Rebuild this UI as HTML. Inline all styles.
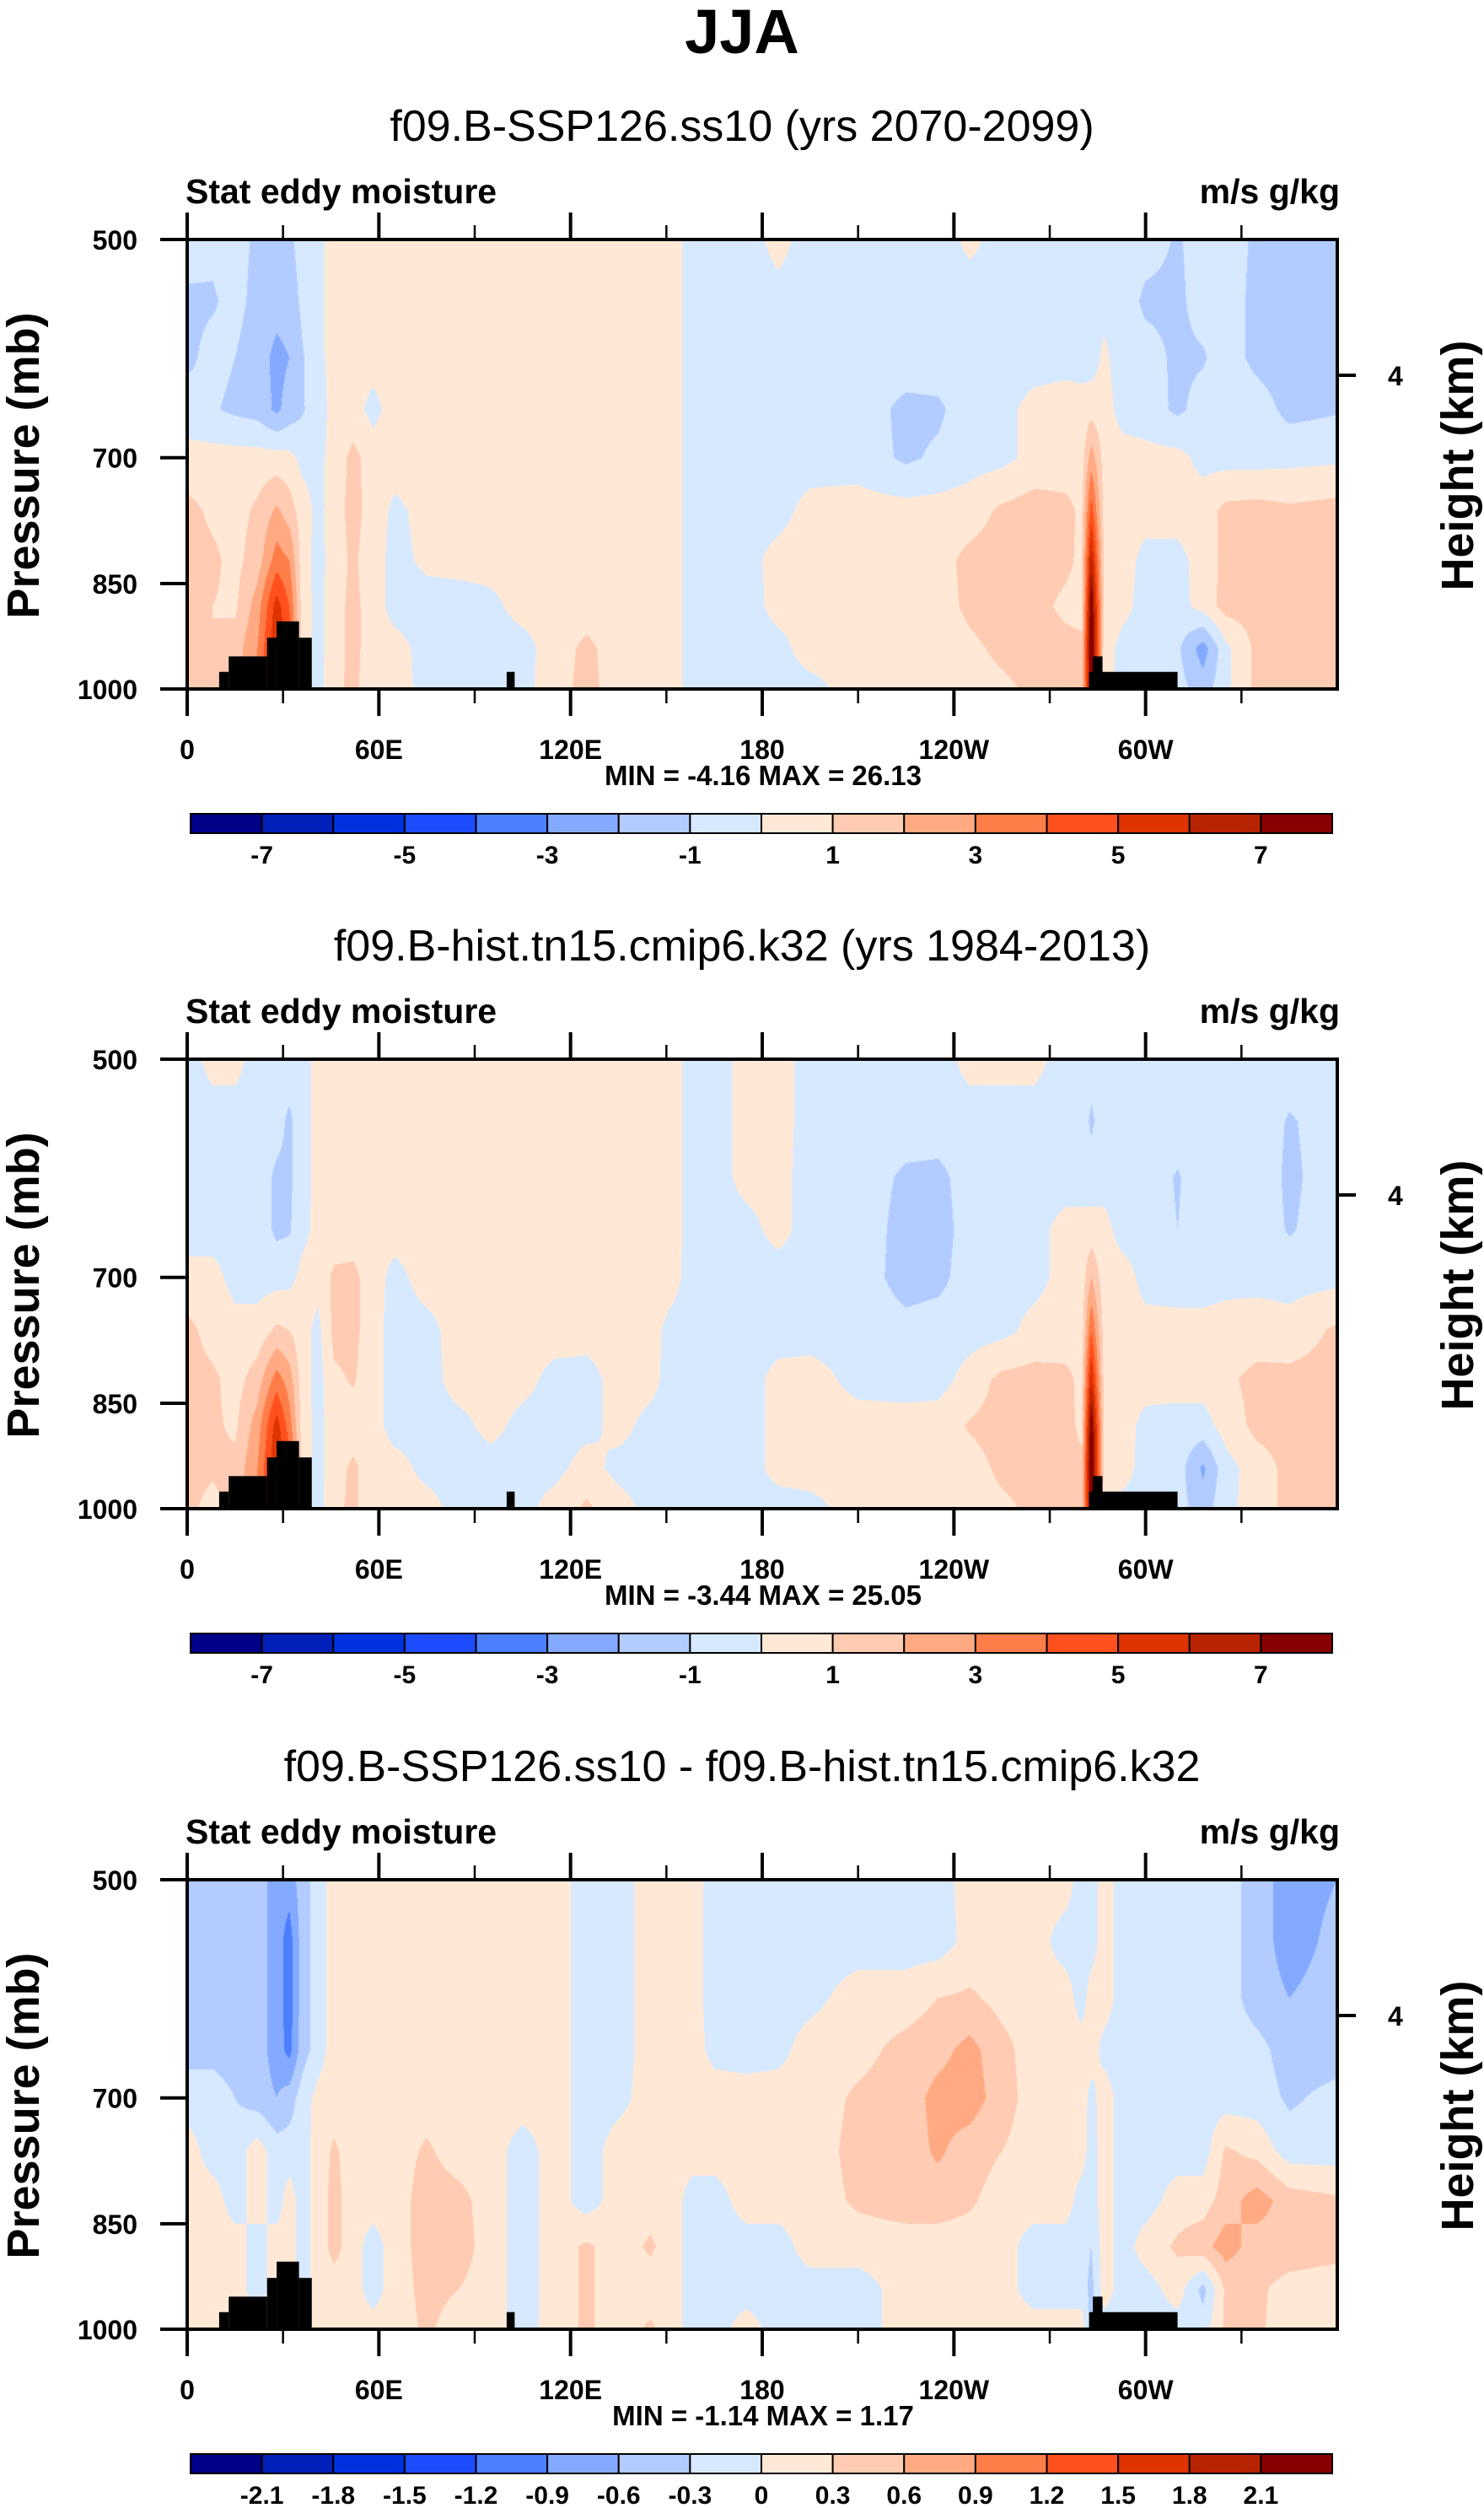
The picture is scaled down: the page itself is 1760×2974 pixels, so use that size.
<!DOCTYPE html>
<html><head><meta charset="utf-8"><style>
html,body{margin:0;padding:0;background:#fff;}
#wrap{position:relative;width:1760px;height:2974px;overflow:hidden;background:#fff;}
canvas{position:absolute;}
svg{position:absolute;left:0;top:0;}
text{font-family:"Liberation Sans",Arial,sans-serif;fill:#000;}
.b{font-weight:bold;}
</style></head><body>
<div id="wrap">
<canvas id="c0" width="1364" height="533" style="left:222px;top:284px"></canvas>
<canvas id="c1" width="1364" height="533" style="left:222px;top:1256px"></canvas>
<canvas id="c2" width="1364" height="533" style="left:222px;top:2229px"></canvas>
<svg id="svg" width="1760" height="2974" xmlns="http://www.w3.org/2000/svg">
<text x="880" y="63" text-anchor="middle" class="b" font-size="74">JJA</text>
<g id="p0" transform="translate(0,0)">
<text x="880" y="167" text-anchor="middle" font-size="52">f09.B-SSP126.ss10 (yrs 2070-2099)</text>
<text x="220" y="241" class="b" font-size="41">Stat eddy moisture</text>
<text x="1589" y="241" text-anchor="end" class="b" font-size="41">m/s g/kg</text>
<text transform="translate(46,552) rotate(-90)" text-anchor="middle" class="b" font-size="54">Pressure (mb)</text>
<text transform="translate(1747,552) rotate(-90)" text-anchor="middle" class="b" font-size="54">Height (km)</text>
<text x="905" y="931" text-anchor="middle" class="b" font-size="33">MIN = -4.16  MAX = 26.13</text>
</g>
<g id="p1" transform="translate(0,972)">
<text x="880" y="167" text-anchor="middle" font-size="52">f09.B-hist.tn15.cmip6.k32 (yrs 1984-2013)</text>
<text x="220" y="241" class="b" font-size="41">Stat eddy moisture</text>
<text x="1589" y="241" text-anchor="end" class="b" font-size="41">m/s g/kg</text>
<text transform="translate(46,552) rotate(-90)" text-anchor="middle" class="b" font-size="54">Pressure (mb)</text>
<text transform="translate(1747,552) rotate(-90)" text-anchor="middle" class="b" font-size="54">Height (km)</text>
<text x="905" y="931" text-anchor="middle" class="b" font-size="33">MIN = -3.44  MAX = 25.05</text>
</g>
<g id="p2" transform="translate(0,1945)">
<text x="880" y="167" text-anchor="middle" font-size="52">f09.B-SSP126.ss10 - f09.B-hist.tn15.cmip6.k32</text>
<text x="220" y="241" class="b" font-size="41">Stat eddy moisture</text>
<text x="1589" y="241" text-anchor="end" class="b" font-size="41">m/s g/kg</text>
<text transform="translate(46,552) rotate(-90)" text-anchor="middle" class="b" font-size="54">Pressure (mb)</text>
<text transform="translate(1747,552) rotate(-90)" text-anchor="middle" class="b" font-size="54">Height (km)</text>
<text x="905" y="931" text-anchor="middle" class="b" font-size="33">MIN = -1.14  MAX =  1.17</text>
</g>
</svg>
</div>
<script>
// ---- data ----
const lons = [0,8,15,22,28,32,36,41,46,52,58,65,75,85,95,105,115,125,135,145,152,158,165,175,185,195,210,225,235,245,255,265,275,280,283,287,293,300,310,318,325,335,345,360];
const pressures = [500,550,600,650,700,760,820,880,940,1000];
const xTickLons = [0,60,120,180,240,300];
const xTickLabels = ['0','60E','120E','180','120W','60W'];
const yTickP = [500,700,850,1000];
const yTickLabels = ['500','700','850','1000'];
const heightTickFrac = [0.302];
const heightTickLabels = ['4'];
const levels12 = [-7,-6,-5,-4,-3,-2,-1,0,1,2,3,4,5,6,7];
const cbLabels12 = ['-7','-5','-3','-1','1','3','5','7'];
const levels3 = [-2.1,-1.8,-1.5,-1.2,-0.9,-0.6,-0.3,0,0.3,0.6,0.9,1.2,1.5,1.8,2.1];
const cbLabels3 = ['-2.1','-1.8','-1.5','-1.2','-0.9','-0.6','-0.3','0','0.3','0.6','0.9','1.2','1.5','1.8','2.1'];
const colors = ['#000088','#0020b8','#0032e0','#1e4cff','#4a7fff','#84aaff','#b2ccff','#d6e9ff','#ffe9d6','#ffcbb2','#ffaa82','#ff7d48','#ff501e','#e03400','#b82300','#880000'];
const topo = [[10,13,974],[13,25,951],[25,28,924],[28,35,901],[35,39,924],[100,102.5,974],[283.5,286.5,951],[282.3,310,974]];

const field1 = [
[-0.5,-0.8,-0.6,-1.2,-1.3,-1.2,-0.6,-0.3, 0.4,0.4,0.4,0.4,0.4,0.4,0.4,0.4,0.4,0.4,0.4,0.4,0.4, -0.4,-0.4,-0.4,0.3,-0.4,-0.4,-0.4,-0.4,0.2,-0.3,-0.4,-0.4,-0.4,-0.6,-0.3,-0.5,-0.6,-1.1,-0.6,-0.5,-1.2,-1.5,-1.3],
[-1.2,-1.1,-0.7,-1.3,-1.6,-1.5,-0.8,-0.3, 0.4,0.4,0.4,0.4,0.4,0.4,0.4,0.4,0.4,0.4,0.4,0.4,0.4, -0.4,-0.4,-0.4,-0.3,-0.4,-0.4,-0.4,-0.4,-0.4,-0.4,-0.4,-0.4,-0.4,-0.6,-0.3,-0.5,-1.2,-1.2,-0.6,-0.5,-1.3,-1.6,-1.4],
[-1.2,-0.7,-1.0,-1.5,-2.3,-2.0,-1.1,-0.3, 0.4,0.4,0.4,0.4,0.4,0.4,0.4,0.4,0.4,0.4,0.4,0.4,0.4, -0.4,-0.4,-0.4,-0.4,-0.4,-0.4,-0.4,-0.4,-0.4,-0.4,-0.4,-0.3,-0.4,-0.5,0.2,-0.5,-0.6,-1.2,-1.1,-0.5,-1.3,-1.6,-1.4],
[-0.6,-0.9,-1.2,-1.4,-2.2,-1.6,-1.1,-0.5, 0.4,0.4,-0.3,0.4,0.4,0.4,0.4,0.4,0.4,0.4,0.4,0.4,0.4, -0.4,-0.4,-0.4,-0.4,-0.4,-0.4,-1.3,-1.2,-0.4,-0.3,0.3,0.4,0.4,0.6,0.4,-0.4,-0.5,-1.2,-0.6,-0.4,-0.5,-1.3,-1.1],
[0.4,0.4,0.4,0.4,0.4,0.3,-0.3,-0.3, 0.4,1.3,0.5,0.4,0.4,0.4,0.4,0.4,0.4,0.4,0.4,0.4,0.4, -0.4,-0.4,-0.4,-0.4,-0.4,-0.4,-1.2,-0.8,-0.4,-0.3,0.3,0.4,0.5,2.5,0.6,0.4,0.3,0.3,-0.3,-0.4,-0.4,-0.3,-0.2],
[1.3,0.8,0.6,1.2,2.2,1.5,0.5,-0.3, 0.5,1.4,0.5,-0.2,0.3,0.3,0.4,0.4,0.4,0.4,0.4,0.4,0.4, -0.4,-0.4,-0.4,-0.3,0.3,0.4,0.4,0.4,0.5,1.2,1.5,1.3,0.8,4.5,0.7,0.4,0.4,0.4,0.5,1.3,1.4,1.2,1.4],
[1.4,1.2,0.7,1.5,3.5,3.0,0.5,-0.4, 0.5,1.2,0.4,-0.3,0.2,0.3,0.3,0.4,0.3,0.4,0.4,0.4,0.4, -0.4,-0.4,-0.3,0.3,0.4,0.4,0.5,0.6,1.3,1.5,1.5,1.2,0.8,6.5,0.8,0.4,-0.3,-0.3,0.4,1.3,1.4,1.4,1.6],
[1.4,1.0,0.8,2.5,5.5,4.0,0.6,-0.4, 0.6,1.3,0.5,-0.4,-0.4,-0.4,-0.2,0.3,0.3,0.4,0.4,0.4,0.4, -0.4,-0.4,-0.4,0.3,0.4,0.4,0.5,0.6,1.2,1.5,1.3,0.8,0.7,8,0.8,0.3,-0.4,-0.4,0.4,1.4,1.4,1.5,1.6],
[1.4,1.0,1.5,3,6,4.5,0.7,-0.4, 0.6,1.3,0.5,0.4,-0.4,-0.4,-0.4,-0.3,0.4,1.3,0.4,0.4,0.4, -0.4,-0.4,-0.4,-0.3,0.4,0.4,0.4,0.5,0.8,1.2,1.4,1.3,1.2,8.5,0.5,-0.4,-0.4,-0.8,-2.5,-0.3,1.3,1.4,1.5],
[1.3,1.0,1.5,3,5,4,0.6,-0.4, 0.8,1.2,0.5,0.4,-0.3,-0.4,-0.4,-0.3,0.5,1.4,0.4,0.4,0.4, -0.4,-0.4,-0.4,-0.4,-0.3,0.4,0.4,0.5,0.6,0.8,1.2,1.3,1.2,8,0.4,-0.4,-0.4,-0.6,-1.5,-0.3,1.3,1.4,1.4]
];
const field2 = [
[-0.4,0.3,0.3,-0.4,-0.4,-0.4,-0.4,0.3, 0.4,0.4,0.4,0.4,0.4,0.4,0.4,0.4,0.4,0.4,0.4,0.4,0.4, -0.4,-0.4,0.3,0.3,-0.3,-0.4,-0.4,-0.4,0.3,0.3,0.3,-0.4,-0.4,-0.5,-0.4,-0.4,-0.4,-0.4,-0.4,-0.4,-0.4,-0.4,-0.4],
[-0.4,-0.4,-0.4,-0.4,-0.6,-1.2,-0.4,0.3, 0.4,0.4,0.4,0.4,0.4,0.4,0.4,0.4,0.4,0.4,0.4,0.4,0.4, -0.4,-0.4,0.3,0.3,-0.3,-0.4,-0.4,-0.4,-0.4,-0.4,-0.4,-0.4,-0.4,-1.2,-0.4,-0.4,-0.4,-0.4,-0.4,-0.4,-0.4,-1.1,-0.5],
[-0.4,-0.4,-0.4,-0.4,-1.2,-1.2,-0.4,0.3, 0.4,0.4,0.4,0.4,0.4,0.4,0.4,0.4,0.4,0.4,0.4,0.4,0.4, -0.4,-0.4,0.3,0.3,-0.4,-0.4,-1.2,-1.3,-0.5,-0.4,-0.4,-0.4,-0.4,-0.5,-0.4,-0.4,-0.4,-1.1,-0.4,-0.4,-0.4,-1.2,-0.5],
[-0.4,-0.4,-0.4,-0.4,-1.2,-1.1,-0.3,0.3, 0.4,0.4,0.4,0.4,0.4,0.4,0.4,0.4,0.4,0.4,0.4,0.4,0.4, -0.4,-0.4,-0.3,0.3,-0.4,-0.4,-1.4,-1.4,-0.6,-0.4,-0.3,0.3,0.3,0.4,0.3,-0.4,-0.4,-1.0,-0.4,-0.4,-0.4,-1.1,-0.4],
[0.3,0.3,-0.3,-0.4,-0.4,-0.3,0.3,0.4, 1.2,1.3,0.4,-0.3,0.4,0.4,0.4,0.4,0.4,0.4,0.4,0.4,0.3, -0.4,-0.4,-0.4,-0.4,-0.4,-0.5,-1.4,-1.3,-0.5,-0.4,-0.3,0.3,0.4,2,0.4,0.4,-0.3,-0.4,-0.4,-0.3,-0.3,-0.4,-0.3],
[1.3,0.6,0.3,0.4,1.2,1.0,0.4,-0.3, 1.3,1.3,0.4,-0.4,-0.3,0.4,0.4,0.4,0.4,0.4,0.4,0.3,-0.3, -0.4,-0.4,-0.4,-0.4,-0.4,-0.4,-0.7,-0.5,-0.4,-0.3,0.3,0.4,0.5,4,0.6,0.4,0.3,0.3,0.3,0.4,0.5,0.4,1.2],
[1.4,1.2,0.6,1.5,3.5,2.5,0.5,-0.4, 0.8,1.1,0.4,-0.4,-0.4,0.4,0.4,0.3,-0.3,-0.4,0.4,0.3,-0.4, -0.4,-0.4,-0.4,0.3,0.4,-0.3,-0.4,-0.4,0.4,1.3,1.4,1.3,0.7,6,0.7,0.4,0.4,0.4,0.4,0.8,1.3,1.3,1.4],
[1.4,1.2,0.8,2.5,5.5,3.5,0.6,-0.4, 0.6,0.5,0.4,-0.4,-0.4,-0.3,0.3,-0.3,-0.4,-0.3,0.3,-0.3,-0.4, -0.4,-0.4,-0.4,0.3,0.4,0.4,0.4,0.5,1.1,1.4,1.4,1.3,0.8,8,0.8,0.4,-0.3,-0.4,-0.4,0.4,1.3,1.4,1.4],
[1.4,1.2,1.3,3,6,4.5,0.7,-0.4, 0.6,1.2,0.5,0.4,-0.3,-0.4,-0.4,-0.4,-0.3,0.4,-0.3,-0.4,-0.4, -0.4,-0.4,-0.4,0.3,0.4,0.4,0.4,0.5,0.6,1.2,1.3,1.3,1.2,8.5,0.6,0.4,-0.4,-0.5,-2.2,-0.4,0.5,1.3,1.4],
[1.3,0.6,1.5,3,5,4,0.6,-0.4, 0.8,1.2,0.4,0.4,0.4,-0.4,-0.4,-0.3,0.4,1.2,0.4,-0.3,-0.4, -0.4,-0.4,-0.4,-0.4,-0.3,0.4,0.4,0.5,0.6,0.8,1.2,1.3,1.2,8,0.4,-0.4,-0.4,-0.6,-1.5,-0.3,0.5,1.3,1.4]
];
const field3 = [
[-0.45,-0.45,-0.45,-0.45,-0.75,-0.75,-0.45,-0.15, 0.15,0.15,0.15,0.15,0.15,0.15,0.15,0.15,0.15, -0.15,-0.15,0.15,0.15,0.15,-0.15,-0.15,-0.15,-0.15,-0.15,-0.15,-0.15,0.15,0.15,0.15,0.15,-0.15,-0.15,0.15,-0.15,-0.15,-0.15,-0.15,-0.15,-0.45,-0.75,-0.6],
[-0.45,-0.45,-0.45,-0.45,-0.75,-1.05,-0.45,-0.15, 0.15,0.15,0.15,0.15,0.15,0.15,0.15,0.15,0.15, -0.15,-0.15,0.15,0.15,0.15,-0.15,-0.15,-0.15,-0.15,-0.15,-0.15,-0.15,0.1,0.15,0.15,-0.15,-0.15,-0.15,0.15,-0.15,-0.15,-0.15,-0.15,-0.15,-0.45,-0.75,-0.5],
[-0.45,-0.45,-0.45,-0.45,-0.75,-1.05,-0.45,-0.15, 0.15,0.15,0.15,0.15,0.15,0.15,0.15,0.15,0.15, -0.15,-0.15,0.15,0.15,0.15,-0.15,-0.15,-0.15,-0.1,0.15,0.15,0.3,0.35,0.2,0.15,0.15,-0.15,0.15,0.15,-0.15,-0.15,-0.15,-0.15,-0.15,-0.45,-0.6,-0.45],
[-0.4,-0.4,-0.45,-0.45,-0.75,-1.0,-0.45,-0.15, 0.15,0.15,0.15,0.15,0.15,0.15,0.15,0.15,0.15, -0.15,-0.15,0.15,0.15,0.15,-0.1,-0.15,-0.1,0.15,0.2,0.4,0.5,0.7,0.4,0.15,0.15,0.15,0.15,-0.1,-0.15,-0.15,-0.15,-0.15,-0.15,-0.2,-0.45,-0.45],
[-0.15,-0.15,-0.3,-0.45,-0.6,-0.45,-0.15,0.1, 0.15,0.15,0.15,0.15,0.15,0.15,0.15,0.15,0.15, -0.15,-0.1,0.15,0.15,0.15,0.15,0.15,0.15,0.15,0.35,0.45,0.7,0.75,0.45,0.15,0.15,0.15,-0.1,0.15,-0.15,-0.15,-0.15,-0.15,-0.15,-0.15,-0.35,-0.2],
[0.15,-0.15,-0.15,0.15,-0.15,-0.15,-0.15,0.15, 0.35,0.15,0.15,0.15,0.35,0.15,0.15,-0.15,0.15, -0.15,0.15,0.15,0.15,0.15,0.15,0.15,0.15,0.15,0.4,0.45,0.65,0.45,0.3,0.15,0.15,0.15,-0.15,0.15,-0.15,-0.15,-0.15,-0.15,0.35,0.2,-0.15,-0.15],
[0.15,0.15,-0.15,0.15,-0.15,0.15,-0.15,0.15, 0.4,0.15,0.15,0.15,0.45,0.4,0.15,-0.15,0.15, -0.15,0.15,0.15,0.15,-0.15,-0.15,0.15,0.15,0.15,0.35,0.45,0.45,0.35,0.15,0.15,0.15,-0.15,-0.15,0.15,-0.15,-0.15,0.15,0.15,0.45,0.75,0.45,0.35],
[0.15,0.15,0.15,-0.15,0.15,0.15,-0.15,0.15, 0.4,0.15,-0.15,0.15,0.45,0.45,0.15,-0.15,0.15, 0.35,0.15,0.35,0.15,-0.15,-0.15,-0.15,-0.15,0.15,0.15,0.15,0.15,0.15,0.15,-0.15,-0.15,-0.15,-0.3,0.15,-0.15,0.15,0.35,0.5,0.75,0.45,0.45,0.4],
[0.15,0.15,0.15,-0.15,0.15,0.15,-0.15,0.15, 0.15,0.15,-0.15,0.15,0.4,0.3,0.15,-0.15,0.15, 0.35,0.15,0.15,0.15,-0.15,-0.15,-0.15,-0.15,-0.15,-0.15,0.15,0.15,0.15,0.15,-0.15,-0.15,-0.15,-0.4,0.15,-0.15,-0.15,0.15,-0.4,0.35,0.35,0.2,0.15],
[0.15,0.15,0.15,0.15,0.15,0.15,-0.15,0.15, 0.2,0.15,0.15,0.15,0.35,0.15,0.15,-0.15,0.15, 0.35,0.15,0.35,0.15,-0.15,-0.15,0.15,-0.15,-0.15,-0.15,0.15,0.15,0.15,0.15,0.15,0.15,0.15,-0.4,-0.15,-0.15,-0.15,-0.15,-0.15,0.35,0.35,0.15,0.15]
];

// ---- geometry ----
const X0=222, X1=1586, Y0=284, Y1=817, W=X1-X0, H=Y1-Y0;
function xOf(lon){return X0+lon/360*W;}
function yOf(p){return Y0+Math.log2(p/500)*H;}
const NS='http://www.w3.org/2000/svg';
function mk(tag,attrs,parent){const e=document.createElementNS(NS,tag);for(const k in attrs)e.setAttribute(k,attrs[k]);parent.appendChild(e);return e;}

function hexRGB(h){return [parseInt(h.substr(1,2),16),parseInt(h.substr(3,2),16),parseInt(h.substr(5,2),16)];}
const rgb = colors.map(hexRGB);

function drawField(canvasId, field, levels){
  const cv=document.getElementById(canvasId), ctx=cv.getContext('2d');
  const img=ctx.createImageData(W,H), d=img.data;
  const ci=[], cw=[];
  for(let x=0;x<W;x++){
    const lon=(x+0.5)/W*360; let i=0;
    while(i<lons.length-2 && lons[i+1]<lon) i++;
    ci.push(i); cw.push((lon-lons[i])/(lons[i+1]-lons[i]));
  }
  const lp=pressures.map(p=>Math.log(p));
  for(let y=0;y<H;y++){
    const p=Math.log(500*Math.pow(2,(y+0.5)/H)); let j=0;
    while(j<lp.length-2 && lp[j+1]<p) j++;
    const wy=(p-lp[j])/(lp[j+1]-lp[j]);
    const r0=field[j], r1=field[j+1];
    for(let x=0;x<W;x++){
      const i=ci[x], wx=cw[x];
      const v=(r0[i]*(1-wx)+r0[i+1]*wx)*(1-wy)+(r1[i]*(1-wx)+r1[i+1]*wx)*wy;
      let k=0; while(k<levels.length && v>=levels[k]) k++;
      const c=rgb[k], o=(y*W+x)*4;
      d[o]=c[0];d[o+1]=c[1];d[o+2]=c[2];d[o+3]=255;
    }
  }
  ctx.putImageData(img,0,0);
}

function drawAxes(gid, levels, cbLabels){
  const g=document.getElementById(gid);
  topo.forEach(t=>{
    const r=mk('rect',{x:xOf(t[0]),y:yOf(t[2]),width:xOf(t[1])-xOf(t[0]),height:Y1-yOf(t[2]),fill:'#000'},g);
    
    
  });
  const frame=mk('rect',{x:X0,y:Y0,width:W,height:H,fill:'none',stroke:'#000','stroke-width':4},g);
  
  
  for(let lon=0;lon<360;lon+=30){
    const major=lon%60===0, len=major?32:17, x=xOf(lon);
    const t1=mk('line',{x1:x,x2:x,y1:Y1,y2:Y1+len,stroke:'#000','stroke-width':major?4:2.5},g);
    
    
    const t2=mk('line',{x1:x,x2:x,y1:Y0,y2:Y0-len,stroke:'#000','stroke-width':major?4:2.5},g);
    
    
  }
  xTickLons.forEach((lon,i)=>{
    const t=mk('text',{x:xOf(lon),y:900,'text-anchor':'middle','font-size':32,'font-weight':'bold'},g);
    t.textContent=xTickLabels[i];
    
    
  });
  yTickP.forEach((p,i)=>{
    const y=yOf(p);
    const l=mk('line',{x1:X0-32,x2:X0,y1:y,y2:y,stroke:'#000','stroke-width':4},g);
    
    
    const t=mk('text',{x:163,y:y+12,'text-anchor':'end','font-size':32,'font-weight':'bold'},g);
    t.textContent=yTickLabels[i];
    
    
  });
  heightTickFrac.forEach((f,i)=>{
    const y=Y0+f*H;
    const l=mk('line',{x1:X1,x2:X1+22,y1:y,y2:y,stroke:'#000','stroke-width':4},g);
    
    
    const t=mk('text',{x:1646,y:y+12,'font-size':32,'font-weight':'bold'},g);
    t.textContent=heightTickLabels[i];
    
    
  });
  const cbx0=226, cbx1=1580, cby=965, cbh=23, n=colors.length, bw=(cbx1-cbx0)/n;
  colors.forEach((c,k)=>{
    const r=mk('rect',{x:cbx0+k*bw,y:cby,width:bw,height:cbh,fill:c,stroke:'#000','stroke-width':2},g);
    
    
  });
  const step = cbLabels.length===8 ? 2 : 1;
  cbLabels.forEach((lab,i)=>{
    const k=1+i*step;
    const t=mk('text',{x:cbx0+k*bw,y:1024,'text-anchor':'middle','font-size':30,'font-weight':'bold'},g);
    t.textContent=lab;
    
    
  });
}

drawField('c0',field1,levels12);
drawField('c1',field2,levels12);
drawField('c2',field3,levels3);
drawAxes('p0',levels12,cbLabels12);
drawAxes('p1',levels12,cbLabels12);
drawAxes('p2',levels3,cbLabels3);
</script>
</body></html>
